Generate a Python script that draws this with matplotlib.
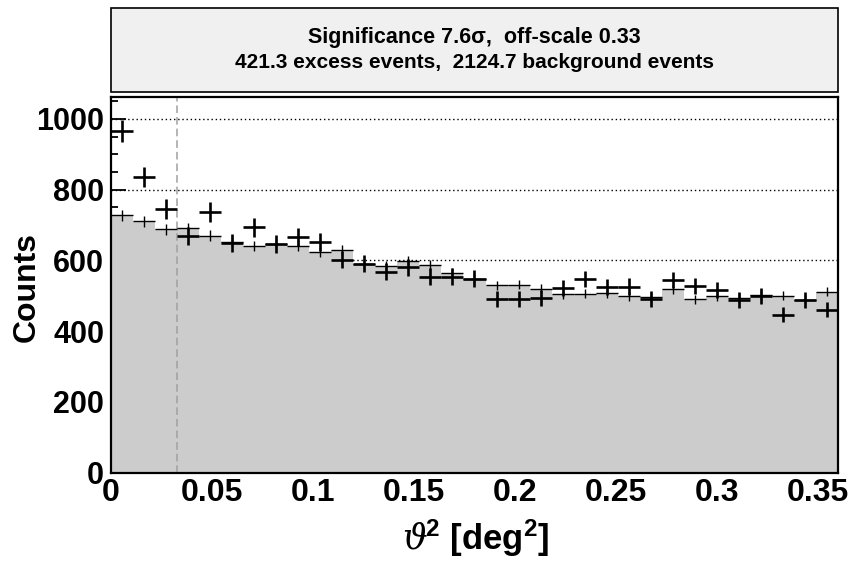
import numpy as np
import matplotlib
matplotlib.use("Agg")
import matplotlib.pyplot as plt
from matplotlib.ticker import MultipleLocator, FixedLocator, FixedFormatter
from matplotlib.patches import Rectangle

plt.rcParams['font.family'] = ['Liberation Sans', 'DejaVu Sans']
plt.rcParams['font.weight'] = 'bold'
plt.rcParams['mathtext.fontset'] = 'custom'
plt.rcParams['mathtext.it'] = 'DejaVu Serif:italic:normal'
plt.rcParams['mathtext.rm'] = 'Liberation Sans:bold'
plt.rcParams['mathtext.bf'] = 'Liberation Sans:bold'

# ---- data ----
x_min, x_max = 0.0, 0.36
n_bins = 33
on_counts = [966, 835, 745, 668, 737, 649, 693, 646, 666, 653, 602, 590, 568, 581,
             554, 554, 548, 490, 490, 493, 521, 547, 524, 526, 491, 545, 528, 515,
             488, 500, 446, 488, 460]
off_counts = [727, 710, 688, 691, 670, 653, 640, 646, 642, 623, 629, 589, 585, 599,
              587, 564, 548, 529, 531, 520, 505, 506, 507, 498, 496, 518, 490, 498,
              493, 502, 500, 488, 511]
off_scale = 0.33
cut_bins = 3
xticks = [0, 0.05, 0.1, 0.15, 0.2, 0.25, 0.3, 0.35]
xtick_labels = ['0', '0.05', '0.1', '0.15', '0.2', '0.25', '0.3', '0.35']
yticks = [0, 200, 400, 600, 800, 1000]
ytick_labels = ['0', '200', '400', '600', '800', '1000']
y_max = 1062
title_lines = ["Significance 7.6\u03c3,  off-scale 0.33",
               "421.3 excess events,  2124.7 background events"]

on = np.array(on_counts, dtype=float)
off = np.array(off_counts, dtype=float)
edges = np.linspace(x_min, x_max, n_bins + 1)
centers = 0.5 * (edges[:-1] + edges[1:])
bw = edges[1] - edges[0]

W, H = 851, 561
fig = plt.figure(figsize=(W / 100, H / 100), dpi=100)
fig.patch.set_facecolor('white')

L, R, T, B = 111, 838, 97, 472.5
ax = fig.add_axes([L / W, 1 - B / H, (R - L) / W, (B - T) / H])

ax.set_axisbelow(True)
ax.yaxis.grid(True, color='black', linestyle=(0, (1, 2.0)), linewidth=1.0)
ax.xaxis.grid(False)

ax.stairs(off, edges, fill=True, color='#cccccc', linewidth=0, zorder=1)
ax.errorbar(centers, off, xerr=bw / 2, yerr=np.sqrt(off * off_scale), fmt='none',
            ecolor='black', elinewidth=1.0, capsize=0, zorder=3)
ax.axvline(edges[cut_bins], color='#a0a0a0', linestyle=(0, (5, 2.6)), linewidth=1.1, zorder=2)
ax.errorbar(centers, on, xerr=bw / 2, yerr=np.sqrt(on), fmt='none',
            ecolor='black', elinewidth=1.9, capsize=0, zorder=4)

ax.set_xlim(x_min, x_max)
ax.set_ylim(0, y_max)

ax.xaxis.set_major_locator(FixedLocator(xticks))
ax.xaxis.set_major_formatter(FixedFormatter(xtick_labels))
ax.yaxis.set_major_locator(FixedLocator(yticks))
ax.yaxis.set_major_formatter(FixedFormatter(ytick_labels))
ax.xaxis.set_minor_locator(MultipleLocator(0.01))
ax.yaxis.set_minor_locator(MultipleLocator(50))

ax.tick_params(which='both', direction='in', top=False, right=False, width=1.3, color='black')
ax.tick_params(which='major', length=10.8)
ax.tick_params(which='minor', length=5.2)
ax.tick_params(axis='x', which='major', labelsize=23, pad=4)
ax.tick_params(axis='y', which='major', labelsize=22, pad=5)
for lab in ax.get_xticklabels() + ax.get_yticklabels():
    lab.set_fontweight('bold')

for s in ax.spines.values():
    s.set_linewidth(1.6)
    s.set_zorder(5)

fig.text(27 / W, 1 - 287 / H, 'Counts', rotation=90, ha='center', va='center',
         fontsize=23, fontweight='bold')
fig.text(476 / W, 1 - 538 / H, r'$\vartheta^{\!2}$ [deg$^{2}$]', ha='center', va='center',
         fontsize=25, fontweight='bold')

# title box
box = Rectangle((L / W, 1 - 92 / H), (R - L) / W, 84 / H, transform=fig.transFigure,
                facecolor='#f0f0f0', edgecolor='black', linewidth=1.2)
fig.patches.append(box)
fig.text((L + R) / 2 / W, 1 - 37 / H, title_lines[0], ha='center', va='center',
         fontsize=15.5, fontweight='bold')
fig.text((L + R) / 2 / W, 1 - 63 / H, title_lines[1], ha='center', va='center',
         fontsize=15, fontweight='bold')

fig.savefig('out.png', dpi=100)
